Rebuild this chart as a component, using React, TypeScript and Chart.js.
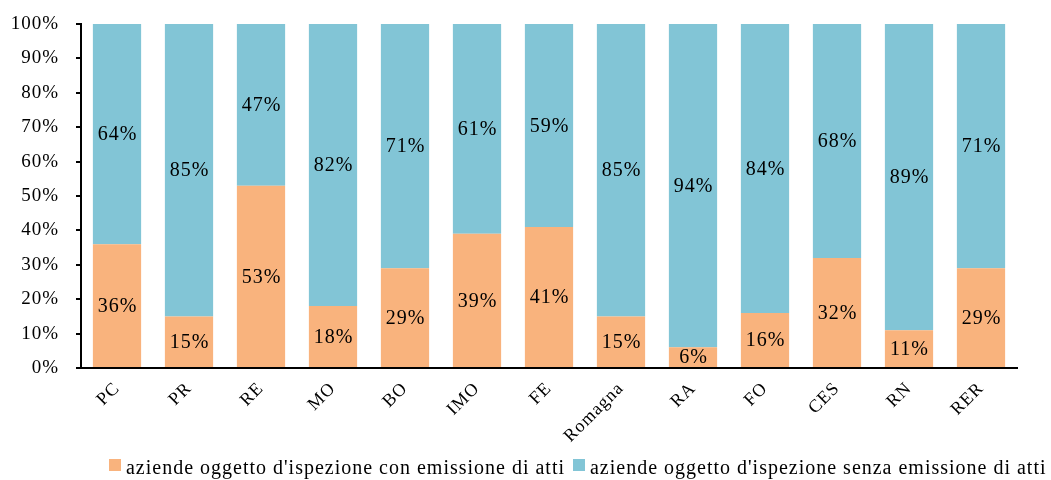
import React, { useEffect, useRef } from "react";
import { Chart, registerables } from "chart.js";

Chart.register(...registerables);

const categories = ["PC", "PR", "RE", "MO", "BO", "IMO", "FE", "Romagna", "RA", "FO", "CES", "RN", "RER"];
const withActs = [36, 15, 53, 18, 29, 39, 41, 15, 6, 16, 32, 11, 29];
const withoutActs = [64, 85, 47, 82, 71, 61, 59, 85, 94, 84, 68, 89, 71];
const seriesNames = [
  "aziende oggetto d'ispezione con emissione di atti",
  "aziende oggetto d'ispezione senza emissione di atti",
];
const yTicks = [0, 10, 20, 30, 40, 50, 60, 70, 80, 90, 100];

const FONT = "'Liberation Serif', 'Times New Roman', serif";
const ORANGE = "#F9B37D";
const BLUE = "#82C5D6";

const spacingPlugin = {
  id: "spacing",
  beforeUpdate(chart: any) { chart.ctx.letterSpacing = "1px"; },
  beforeDraw(chart: any) { chart.ctx.letterSpacing = "1px"; },
};

const labelPlugin = {
  id: "barLabels",
  afterDatasetsDraw(chart: any) {
    const ctx = chart.ctx;
    ctx.save();
    ctx.letterSpacing = "1px";
    ctx.font = `20px ${FONT}`;
    ctx.fillStyle = "#000";
    ctx.textAlign = "center";
    ctx.textBaseline = "middle";
    chart.data.datasets.forEach((ds: any, di: number) => {
      const meta = chart.getDatasetMeta(di);
      meta.data.forEach((bar: any, i: number) => {
        const y = (bar.y + bar.base) / 2;
        ctx.fillText(`${ds.data[i]}%`, bar.x + 0.5, y + 1);
      });
    });
    ctx.restore();
  },
};

const legendPlugin = {
  id: "customLegend",
  afterDraw(chart: any) {
    const ctx = chart.ctx;
    ctx.save();
    ctx.font = `20px ${FONT}`;
    ctx.fillStyle = "#000";
    ctx.textBaseline = "alphabetic";
    ctx.textAlign = "left";
    const targetW = 439;
    const text0 = seriesNames[0];
    ctx.letterSpacing = "0px";
    const w0 = ctx.measureText(text0).width;
    const ls = (targetW - w0) / text0.length;
    ctx.letterSpacing = `${ls}px`;
    let x = 109;
    const boxY = 459;
    const baseY = 474;
    const colors = [ORANGE, BLUE];
    seriesNames.forEach((name, i) => {
      ctx.fillStyle = colors[i];
      ctx.fillRect(x, boxY, 12, 12);
      ctx.fillStyle = "#000";
      ctx.fillText(name, x + 17, baseY);
      const w = ctx.measureText(name).width;
      x = x + 17 + w + 8;
    });
    ctx.restore();
  },
};

export default function App() {
  const ref = useRef<HTMLCanvasElement>(null);
  useEffect(() => {
    document.body.style.margin = "0";
    const chart = new Chart(ref.current!, {
      type: "bar",
      data: {
        labels: categories,
        datasets: [
          { label: seriesNames[0], data: withActs, backgroundColor: ORANGE, borderWidth: 0 },
          { label: seriesNames[1], data: withoutActs, backgroundColor: BLUE, borderWidth: 0 },
        ],
      },
      options: {
        animation: false,
        responsive: false,
        devicePixelRatio: 1,
        layout: { padding: { left: 0, right: 34, top: 24, bottom: 34 } },
        datasets: { bar: { categoryPercentage: 1, barPercentage: 0.67 } } as any,
        scales: {
          x: {
            stacked: true,
            grid: { display: true, drawOnChartArea: false, drawTicks: false },
            border: { display: true, color: "#000", width: 2 },
            ticks: {
              color: "#000",
              font: { family: FONT, size: 18 },
              maxRotation: 45,
              minRotation: 45,
              padding: 10,
            },
            afterFit: (s: any) => {
              s.height = 78;
              s.paddingLeft = 0;
              s.paddingRight = 0;
            },
          },
          y: {
            stacked: true,
            min: 0,
            max: 100,
            afterBuildTicks: (s: any) => { s.ticks = yTicks.map((v) => ({ value: v })); },
            grid: { display: true, drawOnChartArea: false, drawTicks: true, tickLength: 5, color: "#000", lineWidth: 2 },
            border: { display: true, color: "#000", width: 2 },
            ticks: {
              color: "#000",
              font: { family: FONT, size: 19 },
              padding: 17,
              callback: (v: any) => `${v}%`,
            },
            afterFit: (s: any) => {
              s.width = 81;
              s.paddingTop = 0;
              s.paddingBottom = 0;
            },
          },
        },
        plugins: {
          legend: { display: false },
          tooltip: { enabled: false },
        },
      },
      plugins: [spacingPlugin, labelPlugin, legendPlugin],
    });
    return () => chart.destroy();
  }, []);
  return (
    <div style={{ width: 1051, height: 480 }}>
      <canvas ref={ref} width={1051} height={480} style={{ width: 1051, height: 480 }} />
    </div>
  );
}
